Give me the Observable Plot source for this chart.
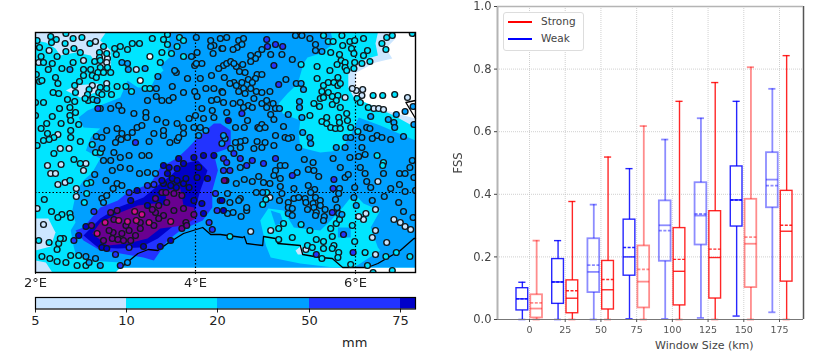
<!DOCTYPE html>
<html><head><meta charset="utf-8">
<script src="https://cdn.jsdelivr.net/npm/d3@7"></script>
<script src="https://cdn.jsdelivr.net/npm/@observablehq/plot@0.6"></script>
<style>
html,body{margin:0;padding:0;background:#fff;width:832px;height:353px;overflow:hidden;font-family:"DejaVu Sans",sans-serif}
.p{position:absolute}
.p svg{display:block;overflow:visible}
#map,#box{filter:blur(.3px)}
#legend{left:503px;top:12px;width:79px;height:37px;border:1px solid #ddd;border-radius:3px;background:#fff;font-size:10.5px;color:#444}
#legend div{position:absolute;left:37px;line-height:12px}
#legend i{position:absolute;left:4px;width:24px;height:1.5px}
</style></head><body>
<div id="map" class="p" style="left:0;top:0"></div>
<div id="bar" class="p" style="left:0;top:290px"></div>
<div class="p" style="left:342px;top:335px;font-size:13px;color:#222">mm</div>
<div id="box" class="p" style="left:440px;top:0"></div>
<div class="p" style="left:655px;top:339px;font-size:11px;line-height:13px;color:#444">Window Size (km)</div>
<div id="legend" class="p">
  <i style="top:8px;background:#f00"></i><div style="top:2px">Strong</div>
  <i style="top:25px;background:#00f"></i><div style="top:19px">Weak</div>
</div>
<script>
// rainfall classes
const rainThresholds=[5,10,20,50,75,100,150];
const rainColors=["#ffffff","#cce6ff","#00e5ff","#00a0ff","#2233ff","#0000c8","#6a0090","#d0108a"];
const barEdges=[5,10,20,50,75,80];
const barTicks=[5,10,20,50,75];

// accumulated rain field, contour outlines [lon,lat]
const fieldLight=[[2,45.6],[6.5,45.6],[6.5,45.54],[6.38,45.44],[6.46,45.34],[6.25,45.3],[6.01,45.2],[5.99,45.02],[6.04,44.92],[6.16,44.89],[6.38,44.82],[6.56,44.78],[6.75,44.74],[6.75,43.25],[3.06,43.25],[3,43.2],[2,43.2]];
const fieldCyan=[[2,45.52],[2.13,45.5],[2.25,45.44],[2.31,45.37],[2.5,45.4],[2.69,45.37],[2.75,45.3],[2.81,45.26],[2.94,45.27],[2.94,45.42],[2.81,45.52],[2.88,45.6],[6.28,45.6],[6.25,45.49],[6.28,45.37],[6.15,45.34],[6,45.27],[5.91,45.19],[5.91,45.05],[5.98,44.95],[6.15,44.89],[6.48,44.77],[6.75,44.65],[6.75,43.25],[3.06,43.25],[3,43.2],[2,43.2]];
const patchLightA=[[2.38,45.02],[2.5,45.07],[2.79,45.09],[2.75,45],[2.56,44.95]];
const patchLightB=[[2,43.74],[2.16,43.74],[2.25,43.6],[2.19,43.46],[2,43.42]];
const patchLightC=[[2,43.32],[2.13,43.3],[2.21,43.2],[2,43.2]];
const fieldAzure=[[3.69,45.6],[3.65,45.42],[3.75,45.4],[3.56,45.27],[3.6,45.22],[3.5,45.15],[3.44,45.05],[3.28,45.05],[3.15,45.12],[3.06,44.95],[2.65,44.82],[2.54,44.75],[2.6,44.65],[2.81,44.64],[2.69,44.55],[2.63,44.42],[2.81,44.34],[2.71,44.2],[2.6,44.12],[2.53,44.04],[2.5,43.97],[2.46,43.82],[2.5,43.7],[2.44,43.62],[2.48,43.45],[2.5,43.39],[2.65,43.32],[3.06,43.3],[3.09,43.25],[6.75,43.25],[6.75,44.52],[6.31,44.67],[6.04,44.75],[5.94,44.57],[5.81,44.42],[5.56,44.4],[5.31,44.45],[5.29,44.59],[5.31,44.72],[5.09,44.79],[5.04,44.89],[5.15,44.99],[5.28,45.09],[5.35,45.29],[5.4,45.35],[5.56,45.39],[5.73,45.49],[5.69,45.6]];
const basinCyan=[[4.81,43.72],[4.91,43.84],[5.1,43.82],[5.23,43.65],[5.56,43.62],[5.69,43.72],[5.84,43.85],[5.98,43.99],[6.1,43.89],[6.31,43.82],[6.19,43.65],[6.28,43.45],[6.31,43.42],[6.06,43.29],[5.98,43.25],[5.73,43.25],[5.31,43.29],[4.94,43.35],[4.88,43.47]];
const lobeAzureA=[[5.78,43.65],[5.94,43.65],[5.94,43.55],[5.78,43.55]];
const lobeAzureB=[[4.94,43.82],[5.06,43.79],[5.1,43.7],[5,43.67]];
const spotLight=[[5.25,43.42],[5.33,43.47],[5.34,43.38],[5.28,43.38]];
const fieldBlue=[[3.9,44.44],[4.03,44.55],[4.23,44.69],[4.31,44.69],[4.44,44.62],[4.44,44.45],[4.23,44.39],[4.28,44.22],[4.21,44.02],[4.21,43.85],[4.09,43.72],[3.81,43.62],[3.65,43.52],[3.48,43.32],[3.35,43.35],[3.06,43.39],[2.81,43.42],[2.6,43.52],[2.5,43.62],[2.6,43.65],[2.81,43.85],[3.03,43.92],[3.15,44],[3.44,44.09],[3.56,44.25],[3.78,44.35]];
const fieldDark=[[2.6,43.57],[2.81,43.74],[3.03,43.85],[3.35,43.95],[3.56,44.09],[3.69,44.17],[3.85,44.29],[4.03,44.32],[4.15,44.22],[4.06,44.02],[3.98,43.79],[3.73,43.67],[3.53,43.54],[3.31,43.45],[3.03,43.44],[2.78,43.45]];
const fieldPurple=[[2.71,43.59],[2.81,43.7],[3.06,43.8],[3.28,43.87],[3.48,43.89],[3.63,43.87],[3.63,44.02],[3.81,44.04],[3.85,43.87],[3.98,43.85],[4,43.74],[3.85,43.67],[3.56,43.64],[3.4,43.54],[3.15,43.49],[2.9,43.47]];
const fieldLayers=[[7,fieldLight],[15,fieldCyan],[7,patchLightA],[7,patchLightB],[7,patchLightC],[30,fieldAzure],[15,basinCyan],[30,lobeAzureA],[30,lobeAzureB],[7,spotLight],[60,fieldBlue],[85,fieldDark],[110,fieldPurple]];

// coastlines
const coastMain=[[3.04,43.27],[3.1,43.27],[3.28,43.39],[3.41,43.43],[3.53,43.42],[3.65,43.49],[3.85,43.59],[4.09,43.65],[4.19,43.58],[4.31,43.58],[4.59,43.55],[4.61,43.56],[4.64,43.49],[4.84,43.47],[4.85,43.56],[5,43.54],[5.03,43.49],[5.31,43.47],[5.34,43.38],[5.56,43.35],[5.71,43.34],[5.84,43.25],[6.15,43.25],[6.28,43.29],[6.56,43.42],[6.73,43.54],[6.75,43.54]];
const coastEast=[[6.75,44.92],[6.63,44.9],[6.69,44.82],[6.75,44.74]];

// rain gauges by class, [lon,lat]
const gauges3=[[3.31,45.12],[3.43,45.36]];
const gauges7=[[2.75,45.51],[2.17,45.42],[2.04,45.3],[2.6,45.32],[2.9,45.34],[2.89,45.3],[2.71,45.07],[2.89,45.09],[2.28,44.58],[2.31,44.44],[2.42,44.44],[3.26,45.23],
[2.15,44.27],[2.32,44.28],[2.6,44.22],[2.63,44.29],[2.19,44.19],[2.25,44.19],[2.37,44.1],[2.28,44.08],[2.51,44.04],[2.51,43.96],[2.1,43.68],[2.02,43.84],
[4.69,43.61],[4.94,43.62],[5.38,43.43],[4.93,43.95],[6.28,44.11],[6.13,43.79],[6.1,43.73],[6.25,43.83],[6.04,43.76],[6.48,43.73],[6.56,43.7],[6.62,43.66],[6.69,43.63],[6.25,43.62],[6.21,43.55],[6.39,43.5],[6.25,43.38],
[5.87,44.95],[6.08,44.97],[6.01,45.02],[5.96,45.04],[6.09,45.03],[6.23,44.84],[6.29,44.84],[6.35,44.83],[6.65,44.95]];
const gauges15=[[2.19,45.56],[2.26,45.53],[2.2,45.5],[2.38,45.59],[2.37,45.49],[2.47,45.54],[2.58,45.55],[2.68,45.49],[2.38,45.41],[2.48,45.44],[2.56,45.4],[2.02,45.52],[2.05,45.45],[2.07,45.36],[2.1,45.3],[2.27,45.36],[2.21,45.29],[2.47,45.3],[2.33,45.24],[2.16,45.23],[2.85,45.46],[2.8,45.4],[2.89,45.39],[2.8,45.35],[2.74,45.31],[2.81,45.32],[2.6,45.23],[2.69,45.23],[2.81,45.25],[2.9,45.25],[2.6,45.17],[2.71,45.17],[2.78,45.2],[2.85,45.2],[2.94,45.2],[2.76,45.15],[2.25,45.15],[2.28,45.09],[2.05,45.11],[2.01,45.18],[2.08,45.12],[2.49,45.07],[2.55,45.11],[2.81,45.05],[2.89,45.04],[2.5,45],[2.67,45.03],[2.65,44.98],[2.79,45],[2.83,44.98],[2.22,45],[2.29,44.99],[2.4,44.93],[2.49,44.91],[2.66,44.92],[2.72,44.93],[2.62,44.94],[2.95,44.98],[3.02,45.06],[3.13,45.06],[3.2,45.01],[3.37,45.04],[3.43,45.04],[2,44.9],[2.1,44.9],[2.3,44.84],[2.43,44.85],[2.5,44.8],[2.43,44.77],[2.44,44.72],[2.21,44.76],[2.32,44.69],[2.54,44.68],[2.14,44.69],[2,44.77],[2.07,44.64],[2.44,44.62],[2.44,44.55],[2.15,44.59],[2.23,44.55],[2.17,44.53],[2.1,44.52],[2.02,44.47],[2.56,44.51],[2.71,44.48],
[3.01,45.38],[3.06,45.46],[2.99,45.44],[3.15,45.43],[3.21,45.49],[3.3,45.49],[3.46,45.54],[3.65,45.58],[3.6,45.53],[3.65,45.48],[3.8,45.55],[3.85,45.52],[3.77,45.46],[3.7,45.39],[3.58,45.4],[3.56,45.3],[3.85,45.36],
[2.48,44.33],[2.56,44.29],[2.43,44.12],[2.69,44.1],[2.64,44.09],[2.64,43.99],[2.61,43.9],[2.11,43.93],[2.2,43.81],[2.33,43.78],[2.43,43.79],[2.44,43.75],[2.28,43.75],[2.23,44.39],[2.75,44.4],[2.81,44.4],[2.35,43.54],[2.29,43.49],[2.31,43.54],[2.27,43.43],[2.17,43.5],[2.04,43.52],[2.08,43.36],[2.18,43.34],[2.27,43.31],[2.38,43.3],[2.44,43.37],[2.54,43.37],[2.52,43.27],[2.63,43.27],
[5.6,45.57],[5.66,45.51],[5.72,45.51],[5.83,45.57],[5.93,45.51],[5.99,45.52],[6.1,45.54],[5.84,45.47],[5.95,45.44],[5.69,45.4],[5.98,45.39],[5.8,45.38],[6.1,45.37],[6.15,45.42],[6.33,45.49],[6.38,45.43],[6.39,45.55],[6.46,45.57],[6.71,45.59],[5.99,45.3],[6.08,45.29],[6.18,45.31],[5.82,45.32],[5.87,45.3],[5.77,45.28],[5.87,45.25],[5.98,45.24],[5.89,45.22],[5.68,45.22],[5.52,45.26],[5.32,45.28],
[5.58,45.01],[5.56,44.94],[5.66,45],[5.6,44.95],[5.71,44.96],[5.78,44.97],[5.76,44.92],[5.71,44.88],[5.81,44.85],[5.89,44.79],[6.02,44.94],[6.06,44.9],[6.16,44.85],[6.22,44.97],[6.34,44.97],[6.49,44.98],[5.52,45.14],[5.6,45.07],[5.66,45.1],[5.73,45.1],[5.78,45.15],[5.78,45.07],[5.81,45.09],[5.58,44.71],[5.64,44.75],[5.64,44.69],[5.79,44.75],[5.8,44.7],[5.9,44.72],[5.69,44.65],[5.75,44.64],[5.81,44.64],[5.94,44.65],[6.03,44.61],[5.43,44.77],[5.48,44.89],[5.55,44.86],
[6.27,44.37],[6.35,44.3],[6.34,44.27],[6.22,43.2],[6.46,43.22],[4.43,43.56],[5.32,43.68],[5.1,43.69],[5.04,43.64],[5.21,43.55],[5.04,43.53],[5.43,43.62],[5.76,43.69],[5.69,43.64],[5.8,43.73],[5.96,43.67],[5.71,43.56],[5.99,43.51],[6.12,43.4],[6.38,43.36],[6.51,43.4],[6.68,43.36],[6.15,43.27],[5.94,43.28],[5.79,43.4],[5.78,43.35],[5.73,43.47],[5.71,43.44],[5.6,43.51],[5.6,43.44],[5.51,43.53],[5.4,43.47],[5.46,43.45],[5.58,43.34],[4.88,43.93],[4.84,43.88],[4.89,44]];
const gauges30=[[2.43,45.23],[3.53,45.16],[3.51,45.04],[3.4,44.92],[3.51,44.96],[3.58,44.92],[3.67,44.92],[3.72,44.95],[3.85,45],[3.71,45.06],[3.9,45.14],[3.76,45.2],[3.74,45.22],[4.08,45.29],[3.99,45.27],[3.37,45.24],[3.16,45.23],[3.08,45.3],[3.15,45.29],
[3.95,45.36],[4.02,45.4],[4.01,45.55],[4.19,45.52],[4.23,45.47],[4.19,45.46],[4.22,45.39],[4.33,45.44],[4.35,45.27],[4.29,45.24],[4.2,45.17],[4.06,45.14],[4.01,45.29],[4.13,45.04],[4.23,45.04],[4.33,45.01],[3.99,45.01],[4.02,44.96],[4.2,44.92],[4.27,44.93],[4.08,44.84],[4.21,44.82],[4,44.77],[4.1,44.74],[4.23,44.75],[4.35,44.9],
[2.76,44.56],[2.83,44.55],[2.89,44.62],[2.83,44.44],[3.02,44.64],[3.08,44.59],[3.04,44.54],[3,44.5],[3.07,44.53],[3.15,44.55],[3.21,44.6],[3.27,44.65],[3.33,44.67],[3.42,44.51],[3.48,44.59],[3.6,44.57],[3.6,44.62],[3.52,44.73],[3.38,44.8],[3.38,44.75],[3.23,44.79],[3.08,44.82],[3.04,44.87],[2.94,44.84],[2.81,44.84],[2.77,44.92],[3.68,44.5],[3.77,44.52],[3.63,44.7],[3.85,44.65],[3.77,44.69],[3.92,44.74],[3.98,44.65],[4.06,44.65],[3.85,44.59],[3.79,44.55],[4.13,44.62],[4.04,44.57],
[4.39,45.55],[4.31,45.54],[4.54,45.52],[4.6,45.54],[4.58,45.48],[4.52,45.45],[4.34,45.44],[4.47,45.43],[5.43,45.54],[5.25,45.57],[5.33,45.57],[5.5,45.48],[5.5,45.42],[5.58,45.41],[5.21,45.33],[5.08,45.38],[4.94,45.38],[4.83,45.43],[4.78,45.38],[4.75,45.34],[4.69,45.37],[4.69,45.31],[4.59,45.28],[4.51,45.26],[4.39,45.29],[4.44,45.31],[4.48,45.29],[4.55,45.21],[4.62,45.2],[4.77,45.18],[4.83,45.18],[4.75,45.14],[4.66,45.13],[4.36,45.15],[4.48,45.1],[4.43,45.09],[4.58,45.1],[4.71,45.1],[4.51,45.07],[4.6,45.04],[4.69,45.04],[4.76,45.01],[4.83,45],[4.93,45.01],[4.34,45],[4.54,45.01],[4.62,44.99],[4.47,44.89],[4.56,44.9],[4.73,44.94],[4.83,44.89],[4.89,44.92],[4.97,44.89],[5,44.84],[5.05,44.84],[4.89,44.85],[4.66,44.87],[4.6,44.85],[4.39,44.8],[4.71,44.85],[4.94,44.78],[4.98,44.73],[4.65,44.72],[4.5,44.65],[4.61,44.65],[4.78,44.65],[4.83,44.68],[4.87,44.65],[4.8,44.64],[5,44.57],[5.1,44.66],[5.12,44.55],[5.2,44.55],[5.16,44.54],[4.98,44.47],[4.77,44.51],[4.87,44.5],[4.62,44.52],[4.56,44.51],[4.5,44.5],[4.37,44.54],[4.35,44.57],[4.83,44.45],[4.73,44.44],[4.56,44.45],[4.44,44.44],[4.33,44.49],[5.29,44.45],[5.43,44.55],[5.44,44.49],[5.76,44.45],[5.87,44.45],[5.34,44.6],
[6.14,44.65],[6.19,44.76],[6.18,44.64],[6.27,44.57],[6.21,44.54],[6.33,44.55],[6.44,44.53],[5.88,44.55],[5.94,44.55],[6.08,44.55],[6.08,44.45],[6.6,44.56],[6.51,44.78],[6.41,44.73],[6.48,44.7],[6.49,44.65],[6.73,44.68],[6.72,44.86],[6.62,44.81],[5.16,44.78],[5.3,44.91],[5.3,44.85],[5.33,44.75],[5.26,45.09],[5.32,45.09],[5.35,45.03],[5.13,45.13],
[2.88,44.12],[2.74,44.18],[2.96,44.22],[3.06,44.25],[3.18,44.24],[3.3,44.19],[3.4,44.2],[3.5,44.19],[3.02,44.09],[3.08,44.07],[2.97,44.04],[2.83,43.94],[2.89,43.97],[2.85,43.9],[2.75,43.34],[2.81,43.27],[2.67,43.3],[2.63,43.36],[3.15,43.3],[3.42,44.37],[3.33,44.37],[3.17,44.37],[3.06,44.35],[2.94,44.32],[2.85,44.32],[2.98,44.4],
[4.56,44.25],[5,44.22],[4.98,44.17],[5.06,44.14],[5.06,44.27],[5.12,44.27],[5.27,44.2],[5.47,44.3],[5.36,44.33],[5.41,44.23],[5.48,44.22],[5.54,44.16],[5.72,44.34],[5.93,44.35],[5.81,44.25],[6.04,44.36],[6.12,44.38],[6.06,44.25],[6.12,44.19],[6.14,44.11],[6.19,44.05],[6.35,44.19],[6.55,44.19],[6.62,44.19],[6.68,44.25],[6.71,44.32],[6.73,44.15],[5.87,44.15],[5.91,44.18],[5.8,44.04],[5.99,44.05],[6.44,44.04],[6.55,44.08],[6.62,44.01],[6.75,44.02],[6.36,43.96],[6.54,43.9],[6.6,43.81],[6.72,43.75],[6.21,43.92],[5.98,43.95],[6.01,43.87],[5.75,43.93],[5.79,43.99],[5.77,43.85],[5.79,43.79],[5.83,43.78],[4.4,43.99],[4.51,44.09],[4.61,44.13],[4.71,44.11],[4.79,44.16],[4.85,44.1],[4.93,44.09],[4.76,44],[4.84,44],[4.56,43.94],[4.54,43.92],[4.43,43.9],[4.47,43.8],[4.4,43.79],[4.57,43.76],[4.64,43.82],[4.64,43.85],[5.06,44.06],[5.08,43.99],[5.05,43.92],[5.23,44.04],[5.23,43.94],[5.16,43.9],[5.16,43.85],[5.21,43.84],[5.16,43.79],[5.21,43.77],[5.29,43.95],[5.37,43.94],[5.38,43.9],[5.41,44.07],[5.49,44.03],[5.44,44],[5.5,43.95],[5.56,43.92],[5.47,43.89],[5.4,43.83],[5.48,43.85],[5.56,43.87],[5.62,43.83],[5.61,43.76],[5.6,43.72],[5.51,43.8],[5.5,43.77]];
const gauges60=[[3.25,44.5],[2.78,44.84],[4.58,44.79],[4.89,45.53],[4.9,45.46],[5,45.48],[5.09,45.46],[4.98,45.27],[5.04,45.08],[2.48,43.52],[2.73,43.81],[3.17,44],[3,43.38],[3.17,43.45],[3.4,44.07],[3.48,44.08],[4.17,43.7],[4.21,43.63],[4.27,43.82],[4.31,43.92],[4.25,43.99],[4.35,44.22],[4.35,44.34],[3.06,43.27],[4.39,44.3],[4.43,44.22],[4.56,44.34],[4.48,44.39],[4.85,44.29],[5,44.34],[4.71,44.32],[4.64,44.27],[5.21,44.17],[5.73,44.13],[5.72,44.04],[5.71,43.8],[5.85,43.58],[5.97,43.4],[5.51,43.38]];
const gauges85=[[4.41,44.72],[2.83,43.45],[2.89,43.44],[3.35,43.46],[3.56,43.46],[3.69,43.52],[2.63,43.66],[2.54,43.57],[3.27,44.02],[3.19,43.92],[3.4,43.87],[3.85,44.09],[3.76,44.05],[3.69,44.07],[3.6,44.09],[3.92,44.05],[3.71,44.14],[3.65,44.19],[3.58,44.12],[3.98,43.92],[4.08,43.89],[4.1,43.79],[3.88,44.14],[3.77,44.12],[4.04,44.25],[3.85,44.29],[3.77,44.24],[3.6,44.27],[3.67,44.25],[4.02,44.15],[4.15,44.14],[4.38,44.12],[3.79,44.34],[3.98,44.35],[4.1,44.37],[4.23,44.37],[4.33,43.92],[4.35,43.82]];
const gauges110=[[2.98,43.73],[2.94,43.8],[3.02,43.82],[2.7,43.67],[2.85,43.52],[2.96,43.54],[3.03,43.53],[3.1,43.52],[2.97,43.6],[2.92,43.62],[3.08,43.59],[3.13,43.67],[3.17,43.62],[3.31,43.7],[3.31,43.64],[3.48,43.67],[3.6,43.77],[3.54,43.74],[3.5,43.8],[3.46,43.83],[3.85,43.84],[3.88,43.7],[3.83,43.64],[3.98,43.78],[3.89,43.67],[3.73,43.82],[3.5,43.94],[3.54,43.87],[3.64,43.9],[3.73,43.99],[3.58,44],[3.63,44],[3.83,43.97],[3.25,43.57],[3.19,43.52],[4.36,44.12]];
const gauges160=[[2.87,43.7],[3.04,43.72],[3.15,43.71],[3.26,43.72],[3.24,43.81],[3.33,43.78],[3.42,43.7],[3.69,43.71],[2.77,43.59]];
const gaugeClasses=[[3,gauges3],[7,gauges7],[15,gauges15],[30,gauges30],[60,gauges60],[85,gauges85],[110,gauges110],[160,gauges160]];

// FSS box statistics by window size
const windowSizes=[0,25,50,75,100,125,150,175];
const weakLow=[0,0,0,.002,.002,.005,.011,.023];
const weakQ1=[.029,.05,.086,.14,.186,.238,.297,.357];
const weakMedian=[.066,.12,.152,.2,.301,.332,.382,.447];
const weakMean=[.066,.12,.174,.23,.284,.337,.382,.428];
const weakQ3=[.1,.193,.258,.319,.379,.437,.489,.533];
const weakHigh=[.119,.252,.367,.482,.575,.643,.697,.737];
const strongLow=[0,0,0,0,0,0,0,0];
const strongQ1=[.005,.02,.032,.037,.045,.067,.102,.121];
const strongMedian=[.035,.068,.095,.121,.154,.198,.242,.282];
const strongMean=[.053,.092,.128,.16,.192,.225,.263,.301];
const strongQ3=[.079,.125,.187,.235,.292,.346,.384,.411];
const strongHigh=[.252,.377,.519,.618,.697,.757,.806,.843];

const rows=windowSizes.flatMap((w,i)=>[
 {w,off:-5,color:"#00f",soft:[2,4,5,7].includes(i),lo:weakLow[i],q1:weakQ1[i],med:weakMedian[i],mean:weakMean[i],q3:weakQ3[i],hi:weakHigh[i]},
 {w,off:5,color:"#f00",soft:[0,3,6].includes(i),lo:strongLow[i],q1:strongQ1[i],med:strongMedian[i],mean:strongMean[i],q3:strongQ3[i],hi:strongHigh[i]}
]);
const color={type:"threshold",domain:rainThresholds,range:rainColors};
const xy={x:d=>d[0],y:d=>d[1]};

// MAP
const mapMarks=[
 ...fieldLayers.map(([mm,pts])=>Plot.line(pts,{...xy,fill:()=>mm,stroke:"none",curve:"linear-closed"})),
 Plot.gridX([4,6],{stroke:"#000",strokeOpacity:1,strokeWidth:1.2,strokeDasharray:"1.5,2"}),
 Plot.gridY([44],{stroke:"#000",strokeOpacity:1,strokeWidth:1.2,strokeDasharray:"1.5,2"}),
 Plot.line(coastMain,{...xy,stroke:"#000",strokeWidth:1.3}),
 Plot.line(coastEast,{...xy,stroke:"#000",strokeWidth:1.3}),
 ...gaugeClasses.map(([mm,pts])=>Plot.dot(pts,{...xy,r:2.9,fill:()=>mm,stroke:"#10181c",strokeWidth:1.4,clip:true})),
 Plot.axisX({ticks:[2,4,6],tickFormat:d=>d+"°E",tickSize:2,tickPadding:3,fontSize:13,color:"#222",label:null,anchor:"bottom"}),
 Plot.frame({stroke:"#000",strokeWidth:1.4})
];
document.getElementById("map").append(Plot.plot({width:430,height:295,marginLeft:35,marginRight:15,marginTop:32,marginBottom:23,
 style:{fontFamily:"DejaVu Sans",background:"transparent"},
 x:{domain:[2,6.75]},y:{domain:[43.2,45.6],axis:null},color,marks:mapMarks}));

// COLOUR BAR
const barSegments=barEdges.slice(0,-1).map((e,i)=>({x1:e,x2:barEdges[i+1]}));
document.getElementById("bar").append(Plot.plot({width:430,height:49,marginLeft:35,marginRight:15,marginTop:7,marginBottom:30.5,
 style:{fontFamily:"DejaVu Sans",background:"transparent"},
 x:{type:"linear",domain:barEdges,range:[35,126,217,309,400,415]},color,
 marks:[
  Plot.rect(barSegments,{x1:"x1",x2:"x2",fill:d=>d.x1+.1}),
  Plot.axisX({ticks:barTicks,tickFormat:d=>d,tickSize:4,tickPadding:3,fontSize:13,color:"#222",label:null}),
  Plot.frame({stroke:"#000",strokeWidth:1.2})
 ]}));

// FSS BOXES
const hw=4.1, cap=2.5;
const groups=[rows.filter(d=>!d.soft),rows.filter(d=>d.soft)];
const styleOf=s=>s?{strokeOpacity:.45,strokeWidth:1.8}:{strokeOpacity:.85,strokeWidth:1.4};
const boxMarks=groups.flatMap((g,k)=>{const st=styleOf(k===1);const c={stroke:d=>d.color,...st};return [
 Plot.ruleX(g,{x:d=>d.w+d.off,y1:"lo",y2:"q1",...c}),
 Plot.ruleX(g,{x:d=>d.w+d.off,y1:"q3",y2:"hi",...c}),
 Plot.ruleY(g,{y:"lo",x1:d=>d.w+d.off-cap,x2:d=>d.w+d.off+cap,...c}),
 Plot.ruleY(g,{y:"hi",x1:d=>d.w+d.off-cap,x2:d=>d.w+d.off+cap,...c}),
 Plot.rect(g,{x1:d=>d.w+d.off-hw,x2:d=>d.w+d.off+hw,y1:"q1",y2:"q3",fill:"none",...c}),
 Plot.ruleY(g,{y:"med",x1:d=>d.w+d.off-hw,x2:d=>d.w+d.off+hw,...c}),
 Plot.ruleY(g,{y:"mean",x1:d=>d.w+d.off-hw,x2:d=>d.w+d.off+hw,strokeDasharray:"3,1.5",...c})
];});
document.getElementById("box").append(Plot.plot({width:392,height:350,marginLeft:57,marginRight:29,marginTop:6,marginBottom:31,
 style:{fontFamily:"DejaVu Sans",background:"transparent"},
 x:{domain:[-22.4,191.8]},y:{domain:[0,1]},color:{type:"identity"},
 marks:[
  Plot.gridX(windowSizes,{stroke:"#bbb",strokeOpacity:1,strokeWidth:.7,strokeDasharray:"1,1"}),
  Plot.gridY([.2,.4,.6,.8],{stroke:"#bbb",strokeOpacity:1,strokeWidth:.7,strokeDasharray:"1,1"}),
  ...boxMarks,
  Plot.ruleX([-22.4],{stroke:"#b4b4b4",strokeWidth:2}),
  Plot.ruleX([191.8],{stroke:"#555",strokeWidth:1.5}),
  Plot.ruleY([1],{stroke:"#b4b4b4",strokeWidth:1.5}),
  Plot.ruleY([0],{stroke:"#777",strokeWidth:1.2}),
  Plot.axisX({ticks:windowSizes,tickFormat:d=>d,tickSize:3,tickPadding:4,fontSize:9.5,color:"#555",label:null}),
  Plot.axisY({ticks:[0,.2,.4,.6,.8,1],tickFormat:d3.format(".1f"),tickSize:3,tickPadding:3,fontSize:11.5,color:"#444",label:"FSS",labelAnchor:"center",labelArrow:"none",labelOffset:44})
 ]}));
</script>
</body></html>
